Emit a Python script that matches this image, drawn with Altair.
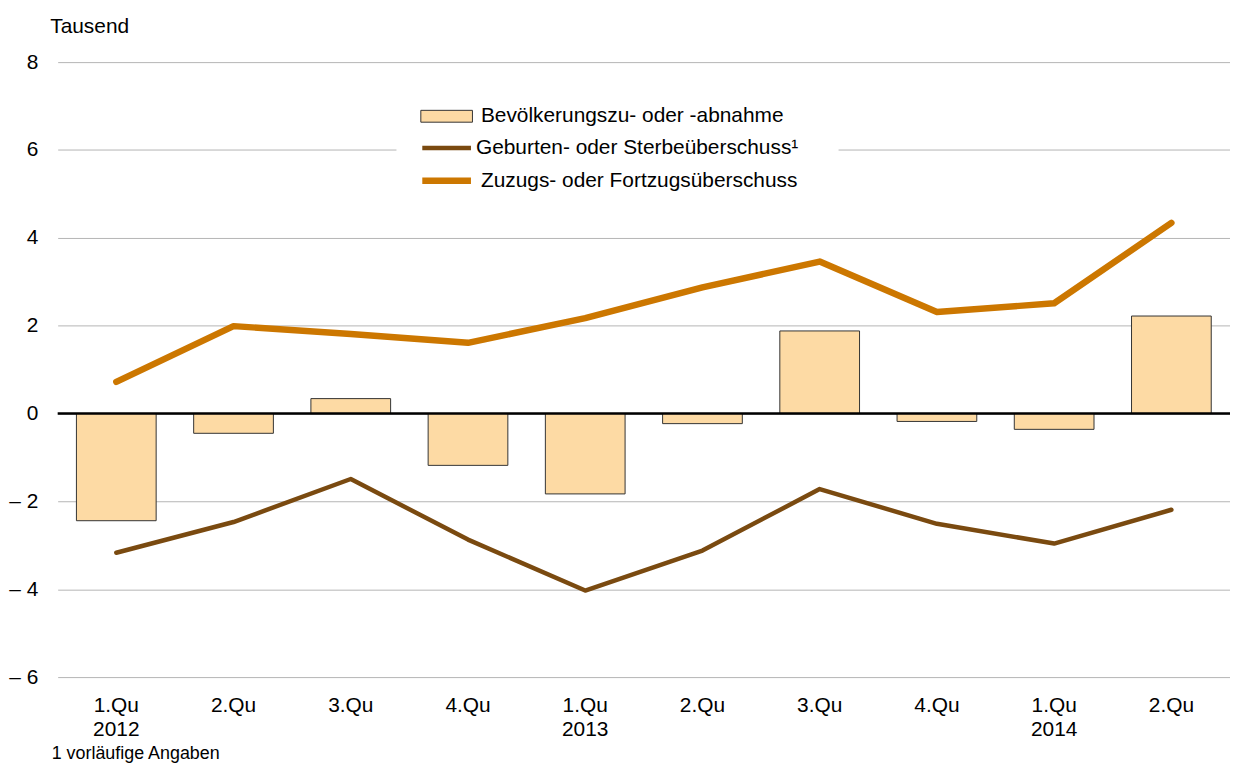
import altair as alt
import pandas as pd

quarters = ["1.Qu", "2.Qu", "3.Qu", "4.Qu", "1.Qu", "2.Qu", "3.Qu", "4.Qu", "1.Qu", "2.Qu"]
years = ["2012", "2012", "2012", "2012", "2013", "2013", "2013", "2013", "2014", "2014"]
bevoelkerung = [-2.44, -0.45, 0.34, -1.18, -1.83, -0.23, 1.88, -0.18, -0.36, 2.22]
geburten = [-3.17, -2.47, -1.49, -2.87, -4.03, -3.12, -1.72, -2.51, -2.96, -2.19]
zuzugs = [0.72, 1.99, 1.81, 1.61, 2.17, 2.87, 3.46, 2.31, 2.51, 4.34]

name_bar = "Bevölkerungszu- oder -abnahme"
name_geb = "Geburten- oder Sterbeüberschuss¹"
name_zuz = "Zuzugs- oder Fortzugsüberschuss"

keys = [f"{q} {y}" for q, y in zip(quarters, years)]

bars_df = pd.DataFrame({"key": keys, "value": bevoelkerung, "series": name_bar})
geb_df = pd.DataFrame({"key": keys, "value": geburten, "series": name_geb})
zuz_df = pd.DataFrame({"key": keys, "value": zuzugs, "series": name_zuz})
zero_df = pd.DataFrame({"zero": [0]})

FONT = "Liberation Sans"
FS = 21

x_enc = alt.X(
    "key:N", sort=keys, title=None,
    scale=alt.Scale(paddingInner=0.32, paddingOuter=0.16),
    axis=alt.Axis(
        labelExpr="split(datum.value, ' ')[0] == '1.Qu' ? split(datum.value, ' ') : split(datum.value, ' ')[0]",
        labelAngle=0, labelAlign="center", ticks=False, domain=False, grid=False,
        labelPadding=18, labelLineHeight=24, labelBaseline="top",
    ),
)
y_scale = alt.Scale(domain=[-6, 8], nice=False)
y_axis = alt.Axis(
    values=[-6, -4, -2, 0, 2, 4, 6, 8],
    labelExpr="datum.value < 0 ? '– ' + abs(datum.value) : '' + datum.value",
    ticks=False, domain=False, grid=True, gridColor="#b4b4b4", gridWidth=1,
    labelPadding=20, title="Tausend", titleAngle=0, titleX=-8, titleY=-30,
    titleAlign="left", titleBaseline="alphabetic", titleFontWeight="normal",
)
y_enc = alt.Y("value:Q", scale=y_scale, axis=y_axis)

common_leg = dict(title=None, orient="none", labelFontSize=FS, labelFont=FONT,
                  labelLimit=0, labelColor="black")

geb = alt.Chart(geb_df).mark_line(strokeCap="round", strokeJoin="round", strokeWidth=4.5).encode(
    x=x_enc,
    y=y_enc,
    color=alt.Color(
        "series:N",
        scale=alt.Scale(domain=[name_geb], range=["#7A4A10"]),
        legend=alt.Legend(
            legendX=341, legendY=36, padding=40, fillColor="white",
            symbolType="M-5,0H5", symbolSize=96, symbolStrokeWidth=4.5,
            labelOffset=19, **common_leg,
        ),
    ),
)

zuz = alt.Chart(zuz_df).mark_line(strokeCap="round", strokeJoin="round", strokeWidth=6.5).encode(
    x=x_enc,
    y=y_enc,
    stroke=alt.Stroke(
        "series:N",
        scale=alt.Scale(domain=[name_zuz], range=["#CC7700"]),
        legend=alt.Legend(
            legendX=381, legendY=109, padding=0,
            symbolType="M-5,0H5", symbolSize=96, symbolStrokeWidth=6.5,
            labelOffset=24, **common_leg,
        ),
    ),
)

bars = alt.Chart(bars_df).mark_bar(stroke="#333333", strokeWidth=1).encode(
    x=x_enc,
    y=y_enc,
    fill=alt.Fill(
        "series:N",
        scale=alt.Scale(domain=[name_bar], range=["#FDDAA4"]),
        legend=alt.Legend(
            legendX=381, legendY=44, padding=0,
            symbolType="M-5,-1.15H5V1.15H-5Z", symbolSize=108,
            symbolStrokeColor="#333333", symbolStrokeWidth=1, symbolOpacity=1,
            labelOffset=24, **common_leg,
        ),
    ),
)

zero = alt.Chart(zero_df).mark_rule(color="black", strokeWidth=2.5).encode(
    y=alt.Y("zero:Q", scale=y_scale, axis=y_axis)
)

chart = alt.layer(geb, zuz, bars, zero).properties(
    width=1180, height=619,
    autosize=alt.AutoSizeParams(type="none"),
    padding={"left": 50, "top": 52, "right": 0, "bottom": 85},
    title=alt.TitleParams(
        text="1 vorläufige Angaben", orient="bottom", anchor="start",
        frame="group", dx=-6, offset=5, fontSize=18, font=FONT,
        fontWeight="normal", color="black",
    ),
).configure_view(stroke=None).configure_axis(
    labelFont=FONT, labelFontSize=FS, labelColor="black",
    titleFont=FONT, titleFontSize=FS, titleColor="black",
)

chart.save("out.html", embed_options={"renderer": "svg", "actions": False})
